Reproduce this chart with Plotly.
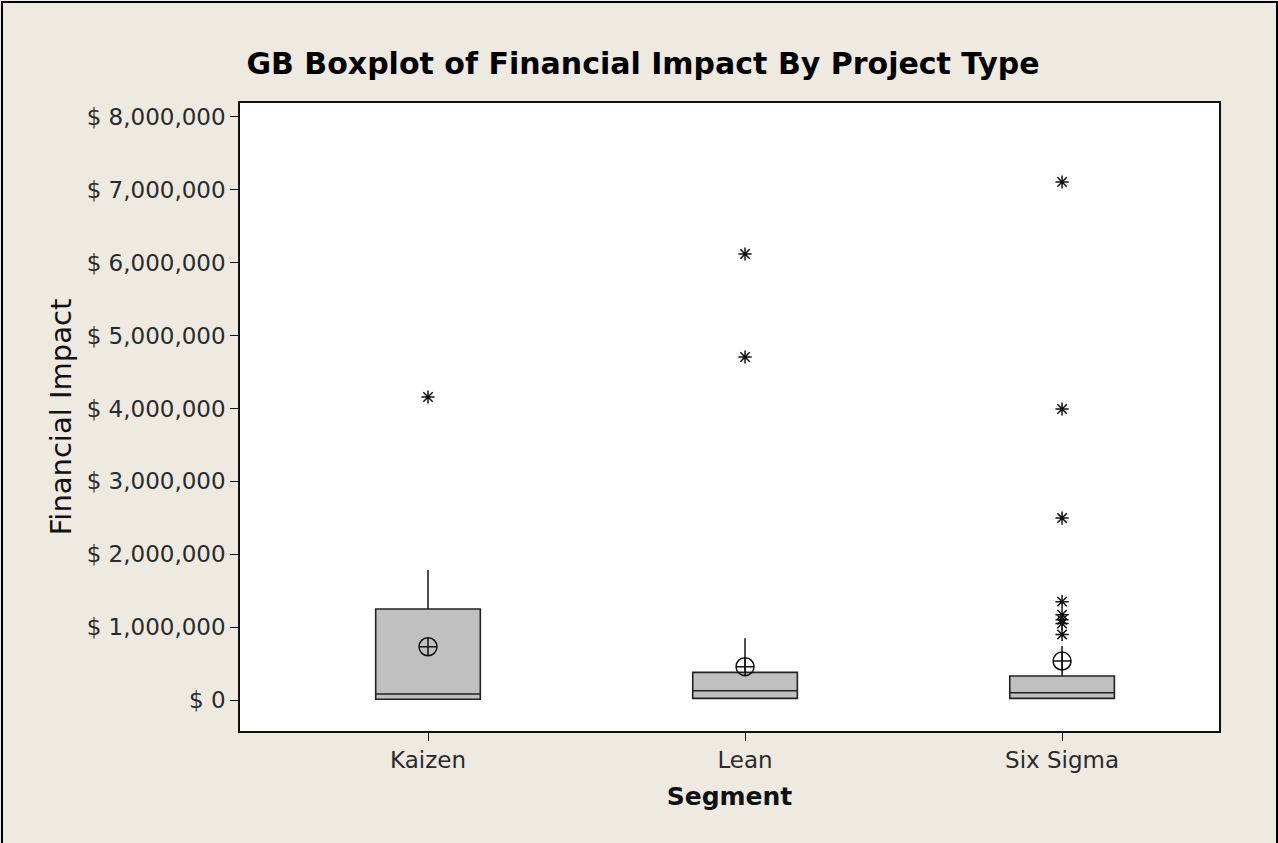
import plotly.graph_objects as go

# Data (values in dollars)
categories = ["Kaizen", "Lean", "Six Sigma"]
q1_vals = [10000, 23000, 23000]
median_vals = [82000, 128000, 100000]
q3_vals = [1249000, 380000, 329000]
lower_vals = [5000, 10000, 10000]
upper_vals = [1784000, 847000, 741000]
mean_vals = [731000, 457000, 535000]
outlier_cats = ["Kaizen", "Lean", "Lean", "Six Sigma", "Six Sigma", "Six Sigma",
                "Six Sigma", "Six Sigma", "Six Sigma", "Six Sigma", "Six Sigma"]
outlier_vals = [4158000, 6120000, 4707000, 7108000, 3993000, 2497000,
                1350000, 1170000, 1100000, 1050000, 900000]
tick_vals = [0, 1000000, 2000000, 3000000, 4000000, 5000000, 6000000, 7000000, 8000000]
tick_text = ["$ 0", "$ 1,000,000", "$ 2,000,000", "$ 3,000,000", "$ 4,000,000",
             "$ 5,000,000", "$ 6,000,000", "$ 7,000,000", "$ 8,000,000"]

cat_idx = {c: i for i, c in enumerate(categories)}

FONT = "DejaVu Sans"
fig = go.Figure()

fig.add_trace(go.Box(
    x=[cat_idx[c] for c in categories],
    q1=q1_vals, median=median_vals, q3=q3_vals,
    lowerfence=lower_vals, upperfence=upper_vals,
    fillcolor="#C0C0C0",
    line=dict(color="#222222", width=1.6),
    whiskerwidth=0,
    width=0.33,
    boxpoints=False,
    showlegend=False,
    hoverinfo="skip",
))

fig.add_trace(go.Scatter(
    x=[cat_idx[c] for c in categories], y=mean_vals, mode="markers",
    marker=dict(symbol="circle-cross-open", size=18, color="#111111",
                line=dict(width=1.5, color="#111111")),
    showlegend=False,
))

fig.add_trace(go.Scatter(
    x=[cat_idx[c] for c in outlier_cats], y=outlier_vals, mode="markers",
    marker=dict(symbol="asterisk-open", size=11, color="#111111",
                line=dict(width=1.5, color="#111111")),
    showlegend=False,
))

L, R, T, B = 240, 59, 103, 112
W, H = 1278, 843
pw, ph = W - L - R, H - T - B

fig.update_layout(
    width=W, height=H,
    paper_bgcolor="#EEEAE1",
    plot_bgcolor="white",
    margin=dict(l=L, r=R, t=T, b=B),
    title=dict(text="<b>GB Boxplot of Financial Impact By Project Type</b>",
               x=643 / W, xanchor="center", y=1 - 63 / H, yanchor="middle",
               font=dict(family=FONT, size=30, color="black")),
    font=dict(family=FONT, color="#2a2a2a"),
    xaxis=dict(
        range=[-0.593, 2.495],
        tickmode="array", tickvals=[0, 1, 2], ticktext=categories,
        showgrid=False, zeroline=False,
        showline=True, mirror=True, linecolor="#111111", linewidth=1.5,
        ticks="outside", ticklen=8, tickwidth=1.2, tickcolor="#111111",
        tickfont=dict(size=23, family=FONT, color="#2a2a2a"),
        title=dict(text="<b>Segment</b>", font=dict(size=25, family=FONT, color="#111111"), standoff=15),
    ),
    yaxis=dict(
        range=[-425000, 8192000],
        tickmode="array", tickvals=tick_vals, ticktext=tick_text,
        showgrid=False, zeroline=False,
        showline=True, mirror=True, linecolor="#111111", linewidth=1.5,
        ticks="outside", ticklen=8, tickwidth=1.2, tickcolor="#111111",
        tickfont=dict(size=23, family=FONT, color="#2a2a2a"),
        title=dict(text="Financial Impact", font=dict(size=29, family=FONT, color="#111111"), standoff=7),
    ),
    shapes=[dict(type="rect", xref="paper", yref="paper",
                 x0=(2 - L) / pw, x1=(1277 - L) / pw,
                 y0=(H - B - 860) / ph, y1=(H - B - 2) / ph,
                 line=dict(color="black", width=2), fillcolor="rgba(0,0,0,0)",
                 layer="below")],
)

fig.write_html("out.html", config={"displayModeBar": False},
               post_script="document.body.style.margin='0';")
